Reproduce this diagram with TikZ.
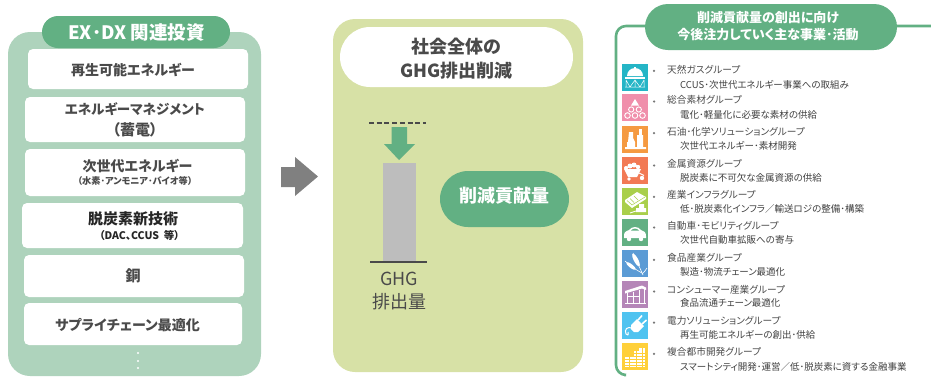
\documentclass[tikz,border=0pt]{standalone}
\usepackage{fontspec}
\setmainfont[RawFeature=+palt]{Noto Sans CJK JP}
\definecolor{gA}{HTML}{62B083}
\definecolor{gB}{HTML}{AED3BC}
\definecolor{gC}{HTML}{D7E1A6}
\definecolor{tx}{HTML}{4A4A4A}
\definecolor{i1}{HTML}{24B5C6}
\definecolor{i2}{HTML}{F08FAB}
\definecolor{i3}{HTML}{F59A41}
\definecolor{i4}{HTML}{F27A55}
\definecolor{i5}{HTML}{A9CF4B}
\definecolor{i6}{HTML}{62B083}
\definecolor{i7}{HTML}{5B9BD5}
\definecolor{i8}{HTML}{B586B8}
\definecolor{i9}{HTML}{4FC3F0}
\definecolor{i10}{HTML}{FFD03A}
\tikzset{
 x=1pt,y=-1pt,
 whitebox/.style={fill=white,rounded corners=5pt,draw=none},
 lab/.style={font=\bfseries\fontsize{14}{21}\selectfont,text=tx,align=center,inner sep=0},
 sublab/.style={font=\bfseries\fontsize{9.2}{10}\selectfont,text=tx,inner sep=0},
 pilltext/.style={font=\bfseries\fontsize{15}{24}\selectfont,text=white,align=center,inner sep=0},
 gname/.style={font=\fontsize{9.7}{11}\selectfont,text=tx,anchor=west,inner sep=0},
 gdesc/.style={font=\fontsize{9.5}{11}\selectfont,text=tx!85!black,anchor=west,inner sep=0},
}
\newcommand{\boxat}[4]{\fill[whitebox] (#1,#3) rectangle (#2,#4);}
% icon top, name y, desc y, icon code, colour, name, description
\newcommand{\row}[7]{%
 \fill[#5] (622,#1) rectangle (648,#1+26.5);
 \begin{scope}[shift={(622,#1)},white,line width=.9pt]#4\end{scope}
 \fill[tx!75] (654,#2+1.5) circle (1.25);
 \node[gname] at (667,#2) {#6};
 \node[gdesc] at (680,#3) {#7};
}
\begin{document}
\begin{tikzpicture}
\useasboundingbox (0,0) rectangle (931,376);
\clip (0,0) rectangle (931,376);
% left panel
\fill[gB,rounded corners=22pt] (8,32) rectangle (261,376);
\fill[gA,rounded corners=16pt] (42,16) rectangle (230,48);
\node[pilltext,font=\bfseries\fontsize{18.5}{20}\selectfont] (ex) at (136.5,33) {EX･DX 関連投資};
\boxat{28}{248}{49}{89}\node[lab] (a1) at (133,70) {再生可能エネルギー};
\boxat{25}{245}{97}{142}\node[lab] (a2) at (135,120) {{\fontsize{13.5}{21}\selectfont エネルギーマネジメント}\\{\fontsize{15}{21}\selectfont （蓄電）}};
\boxat{25}{245}{149}{196}\node[lab] (a3) at (137.5,166) {次世代エネルギー};
\node[sublab] (a3b) at (135,181) {（水素･アンモニア･バイオ等）};
\boxat{22}{243}{203}{248}\node[lab,font=\bfseries\fontsize{15}{21}\selectfont,text=black!85] (a4) at (133,219) {脱炭素新技術};
\node[sublab,text=black!85,font=\bfseries\fontsize{10.5}{10}\selectfont] (a4b) at (139.5,235) {（DAC、CCUS\ \ 等）};
\boxat{24}{244}{255}{297}\node[lab,font=\bfseries\fontsize{15}{21}\selectfont] (a5) at (133,276) {銅};
\boxat{24}{242}{303}{345}\node[lab] (a6) at (127.5,325) {サプライチェーン最適化};
\fill[white] (138,353) circle (1.2) (138,361) circle (1.2) (138,368) circle (1.2);
% big arrow
\fill[black!50] (281,167) -- (295,167) -- (295,157) -- (318,176.5) -- (295,196) -- (295,187) -- (281,187) -- cycle;
% middle panel
\fill[gC,rounded corners=22pt] (333,19) rectangle (583,372);
\fill[white,rounded corners=30pt] (340,27) rectangle (573,87);
\node[lab,font=\bfseries\fontsize{18}{24}\selectfont] (soc) at (456.5,59) {社会全体の\\GHG排出削減};
\draw[tx,line width=1.8pt,dash pattern=on 5pt off 2.7pt] (369,123) -- (426,123);
\fill[gA] (391.5,127) -- (407,127) -- (407,144) -- (415,144) -- (399,160) -- (384,144) -- (391.5,144) -- cycle;
\fill[black!26] (383,163) rectangle (416,262);
\draw[tx,line width=2pt] (370,262) -- (427,262);
\node[lab,font=\fontsize{18}{23}\selectfont] (ghg) at (399,291.5) {GHG\\排出量};
\fill[gA,rounded corners=28pt] (440,171) rectangle (569,227);
\node[pilltext,font=\bfseries\fontsize{18}{20}\selectfont] (red) at (504,196) {削減貢献量};
% right panel
\draw[gA,line width=2.6pt,rounded corners=10pt] (940,26) -- (616,26) -- (616,375) -- (624,375);
\fill[gA,rounded corners=23pt] (645,4) rectangle (897,50);
\node[pilltext,font=\bfseries\fontsize{13}{17}\selectfont] (hd) at (768,26) {削減貢献量の創出に向け\\今後注力していく主な事業･活動};
\row{64}{69.3}{84.7}{%
 \fill (5,12) arc[start angle=180,end angle=360,radius=8,y=-1pt] -- cycle;
 \fill (12,2.5) rectangle (14,5);
 \fill (3,12.5) rectangle (23,15);
 \draw[line width=.5pt] (4,16)--(4,23)(13,16)--(13,23)(22,16)--(22,23)(4,16)--(8,23)--(13,16)--(18,23)--(22,16)(3,23)--(23,23);
}{i1}{天然ガスグループ}{CCUS･次世代エネルギー事業への取組み}
\row{94}{100}{114.7}{%
 \draw (5.5,21.5) circle (2.8) (13,21.5) circle (2.8) (20.5,21.5) circle (2.8) (9.2,15.5) circle (2.6) (16.8,15.5) circle (2.6);
 \fill (13,5) -- (17,11.5) -- (9,11.5) -- cycle;
}{i2}{総合素材グループ}{電化･軽量化に必要な素材の供給}
\row{126}{131.7}{146}{%
 \fill (3,23) rectangle (24,21) (5,21) rectangle (13,16);
 \fill (6,16) -- (7,6) -- (11,6) -- (11,12) -- (13,16) -- cycle (15,21) rectangle (21,9);
 \fill (17,9) rectangle (19.5,3);
}{i3}{石油･化学ソリューショングループ}{次世代エネルギー･素材開発}
\row{157}{164}{177.7}{%
 \fill (2,12) -- (19,12) -- (15,20) -- (6,20) -- cycle;
 \fill (4,11) circle (2) (8,9) circle (2.5) (12,8) circle (2.5) (16,10) circle (2.2);
 \fill (7,22) circle (1.8) (20,21) circle (2.2);
 \draw (17,16) -- (22,18.5);
}{i4}{金属資源グループ}{脱炭素に不可欠な金属資源の供給}
\row{188}{195.3}{209.3}{%
 \fill (3,12) -- (15,4) -- (24,9) -- (24,11) -- (10,20) -- (3,14) -- cycle;
 \draw[i5,line width=.5pt] (5,12.5) -- (10,17) -- (23,9) (8,10.5)--(12,14.5) (12,8)--(16,12);
 \fill (14,20) rectangle (24,24) (17,16) rectangle (22,20);
 \draw (8,25) -- (14,23);
}{i5}{産業インフラグループ}{低･脱炭素化インフラ／輸送ロジの整備･構築}
\row{219}{226}{240.3}{%
 \fill (2,16) .. controls (2,12) and (6,12) .. (7,11) .. controls (10,7) and (16,7) .. (19,11) .. controls (22,12) and (24,13) .. (24,17) -- (24,19) -- (2,19) -- cycle;
 \fill[i6] (9,11.5) .. controls (11,9) and (15,9) .. (17,11.5) -- cycle;
 \fill (7,20) circle (2.2) (19,20) circle (2.2);
}{i6}{自動車･モビリティグループ}{次世代自動車拡販への寄与}
\row{250}{258.3}{272.3}{%
 \draw[line width=.6pt] (21,25) .. controls (18,18) and (15,12) .. (11,3);
 \draw[line width=.6pt] (20,23) .. controls (14,20) and (9,16) .. (3,11);
 \draw[line width=.6pt] (20,24) .. controls (22,22) and (24,20) .. (25,18);
 \fill[rotate around={-62:(14,10)}] (14,10) ellipse (7 and 2.2);
 \fill[rotate around={-38:(9,16)}] (9,16) ellipse (6 and 1.8);
}{i7}{食品産業グループ}{製造･物流チェーン最適化}
\row{281}{290}{303.3}{%
 \fill (3,10) -- (20,4.5) -- (24,6.5) -- (24,9) -- (20,7.5) -- (3,12.5) -- cycle;
 \draw (5,12) -- (5,22) (11,11) -- (11,22) (17,9) -- (17,22) (22,8) -- (22,22) (3,22) -- (24,22) (5,15)--(17,15);
}{i8}{コンシューマー産業グループ}{食品流通チェーン最適化}
\row{312}{321}{335}{%
 \draw[line width=1pt] (11,17) .. controls (5,13) and (2,18) .. (4,22) .. controls (5,24) and (7,23) .. (6,20);
 \fill (9,13) -- (15,7) -- (22,14) -- (16,20) -- (12,20) -- (9,17) -- cycle;
 \draw[line width=1.6pt] (16,8) -- (20,3.5) (20,12) -- (24.5,8);
}{i9}{電力ソリューショングループ}{再生可能エネルギーの創出･供給}
\row{343}{352.3}{366.7}{%
 \fill (3,13) rectangle (12,24);
 \fill (12,8) rectangle (17,24);
 \fill (17,5) rectangle (23,24);
 \foreach \yy in {10,13,16,19,22} {\draw[i10,line width=.5pt] (3,\yy) -- (23,\yy);}
 \foreach \xx in {7,14.5,20} {\draw[i10,line width=.5pt] (\xx,5) -- (\xx,24);}
}{i10}{複合都市開発グループ}{スマートシティ開発･運営／低･脱炭素に資する金融事業}
\end{tikzpicture}
\end{document}
